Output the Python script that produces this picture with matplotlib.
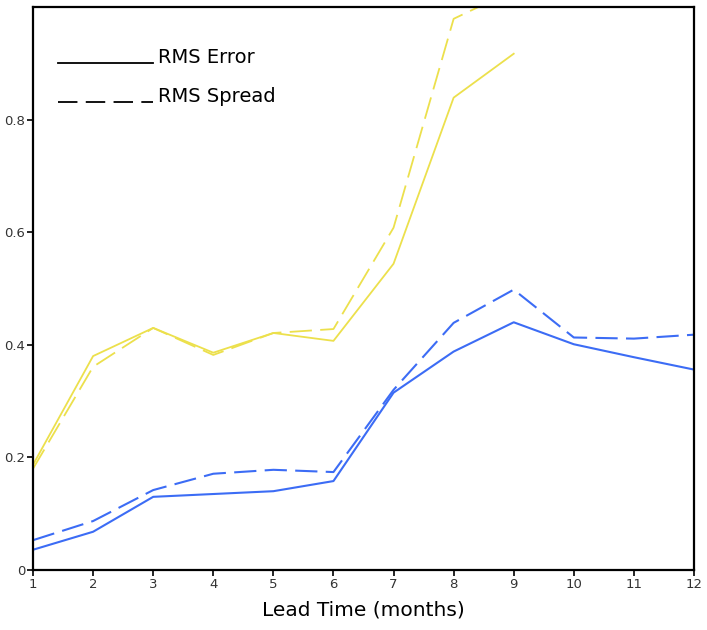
import matplotlib
matplotlib.use("Agg")
from matplotlib import pyplot as plt

plt.rcParams['font.family'] = ['DejaVu Sans']
plt.rcParams['lines.scale_dashes'] = False

lead = [1, 2, 3, 4, 5, 6, 7, 8, 9, 10, 11, 12]
lead_yellow = [1, 2, 3, 4, 5, 6, 7, 8, 9]

yellow_error = [0.187, 0.380, 0.430, 0.386, 0.421, 0.407, 0.544, 0.839, 0.917]
yellow_spread = [0.180, 0.361, 0.430, 0.382, 0.421, 0.428, 0.608, 0.979, 1.03]
blue_error = [0.036, 0.068, 0.130, 0.135, 0.140, 0.158, 0.315, 0.388, 0.440, 0.401, 0.378, 0.356]
blue_spread = [0.053, 0.087, 0.142, 0.171, 0.178, 0.174, 0.320, 0.439, 0.498, 0.413, 0.411, 0.418]

yticks = [0, 0.2, 0.4, 0.6, 0.8]
ytick_labels = ['0', '0.2', '0.4', '0.6', '0.8']

yellow = '#ece04c'
blue = '#3c6cf5'
dash = (0, (16, 6))

fig = plt.figure(figsize=(7.07, 6.30), dpi=100)
ax = fig.add_axes([0.0467, 0.0952, 0.9349, 0.8937])

ax.plot(lead_yellow, yellow_error, color=yellow, lw=1.3)
ax.plot(lead_yellow, yellow_spread, color=yellow, lw=1.3, linestyle=dash)
ax.plot(lead, blue_error, color=blue, lw=1.5)
ax.plot(lead, blue_spread, color=blue, lw=1.5, linestyle=dash)

ax.set_xlim(1, 12)
ax.set_ylim(0, 1.0)
ax.set_xticks(lead)
ax.set_xticklabels([str(v) for v in lead], fontsize=9.5, color='#333333')
ax.set_yticks(yticks)
ax.set_yticklabels(ytick_labels, fontsize=9.5, color='#333333')
ax.tick_params(length=4, width=1.2, pad=1.5)
for s in ax.spines.values():
    s.set_linewidth(1.6)

ax.set_xlabel('Lead Time (months)', fontsize=14.5, labelpad=7)

# legend drawn by hand like the original
ax.plot([0.038, 0.1815], [0.9005, 0.9005], color='black', lw=1.3, transform=ax.transAxes)
ax.plot([0.038, 0.1815], [0.831, 0.831], color='black', lw=1.3, linestyle=(0, (14, 6)),
        transform=ax.transAxes)
ax.text(0.189, 0.9005, 'RMS Error', fontsize=14, va='baseline', transform=ax.transAxes)
ax.text(0.189, 0.831, 'RMS Spread', fontsize=14, va='baseline', transform=ax.transAxes)

fig.savefig('out.png', dpi=100)
